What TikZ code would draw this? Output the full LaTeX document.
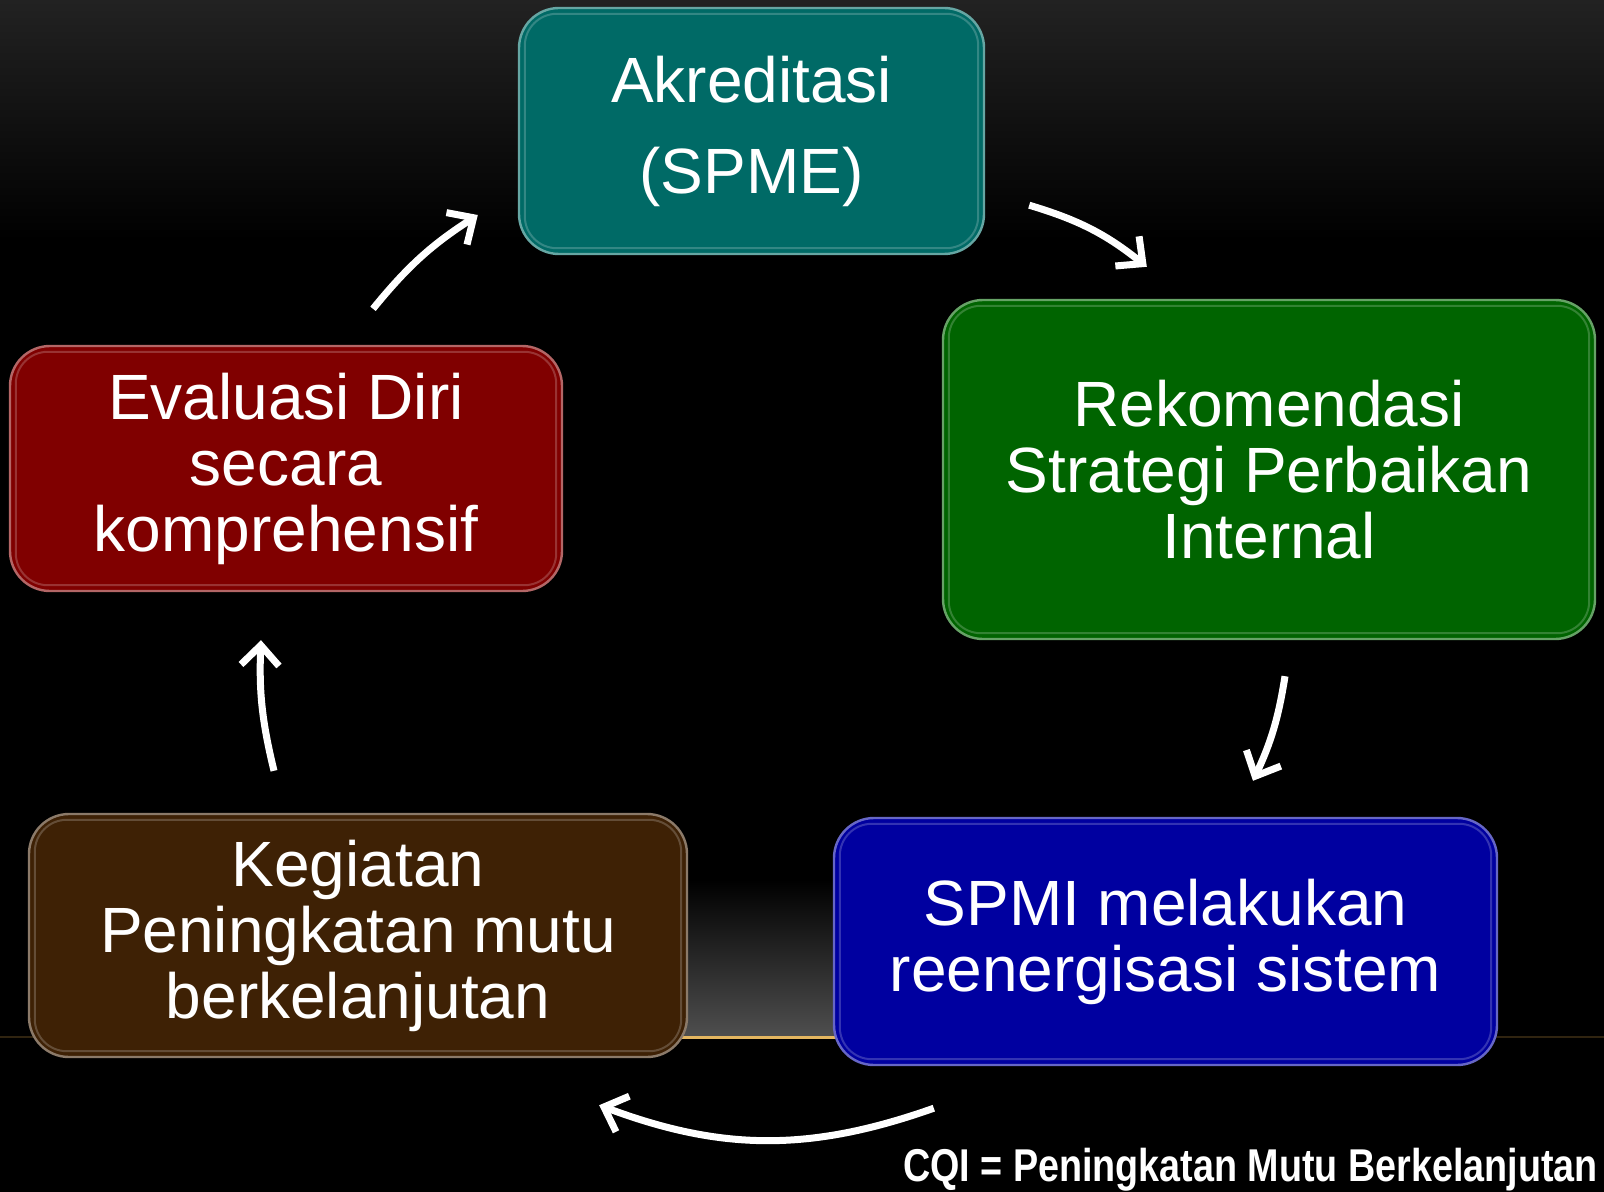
\documentclass[tikz,border=0pt]{standalone}
\usepackage{fontspec}
\setmainfont{Liberation Sans}
\newfontfamily\cqifont[FakeStretch=0.82]{Liberation Sans Bold}
\usetikzlibrary{arrows.meta}

\definecolor{tealbox}{RGB}{0,106,102}
\definecolor{redbox}{RGB}{128,0,0}
\definecolor{greenbox}{RGB}{0,100,0}
\definecolor{bluebox}{RGB}{0,0,160}
\definecolor{brownbox}{RGB}{62,33,5}
\definecolor{topgray}{RGB}{34,34,34}
\definecolor{spotgray}{RGB}{78,78,78}
\definecolor{goldline}{RGB}{228,182,96}
\definecolor{goldfaint}{RGB}{48,36,16}

\begin{document}
\begin{tikzpicture}[x=0.5pt, y=-0.5pt,
            every node/.style={text=white, align=center, font=\fontsize{32}{33}\selectfont},
            cyclebox/.style={draw=#1!60!white, fill=#1, line width=1.2pt, rounded corners=20pt, inner sep=0pt}]
            \tikzset{cycle arrow/.style={draw=white, line width=3.5pt, -{Straight Barb[length=10pt,width=19pt]}}}
            \useasboundingbox (0,0) rectangle (1604,1192);
            % background
            \fill[black] (0,0) rectangle (1604,1192);
            \shade[top color=topgray, bottom color=black] (0,0) rectangle (1604,240);
            \shade[top color=black, bottom color=spotgray] (560,880) rectangle (960,1035);
            \draw[goldfaint, line width=1pt] (0,1037) -- (1604,1037);
            \draw[goldline, line width=1.5pt] (600,1037) -- (920,1037);
            % boxes
            \node[cyclebox=tealbox, minimum width=232.5pt, minimum height=123pt, font=\fontsize{32}{45.5}\selectfont] (akr) at (751.5,131) {Akreditasi\\(SPME)};
            \node[cyclebox=greenbox, minimum width=326pt, minimum height=169.5pt] (rek) at (1269,469.5) {Rekomendasi\\Strategi Perbaikan\\Internal};
            \node[cyclebox=bluebox, minimum width=331.5pt, minimum height=123.5pt] (spmi) at (1165.5,941.5) {SPMI melakukan\\reenergisasi sistem};
            \node[cyclebox=brownbox, minimum width=329pt, minimum height=121.5pt] (keg) at (358,935.5) {Kegiatan\\Peningkatan mutu\\berkelanjutan};
            \node[cyclebox=redbox, minimum width=276pt, minimum height=122.5pt] (eval) at (286,468.5) {Evaluasi Diri\\secara\\komprehensif};
            \foreach \n in {akr,rek,spmi,keg,eval}
              \draw[white, opacity=.2, line width=1pt, rounded corners=16pt] ([shift={(7,7)}]\n.north west) rectangle ([shift={(-7,-7)}]\n.south east);
            % arrows
            \draw[cycle arrow] ([shift={(44,-50)}]akr.south east) to[bend left=11] ([shift={(205,-32)}]rek.north west);
            \draw[cycle arrow] ([shift={(16,36)}]rek.south) to[bend left=8] ([shift={(87.5,-36)}]spmi.north);
            \draw[cycle arrow] ([shift={(101,42)}]spmi.south west) to[bend left=20] ([shift={(-89,47)}]keg.south east);
            \draw[cycle arrow] ([shift={(-84,-42)}]keg.north) to[bend left=8] ([shift={(-25,48)}]eval.south);
            \draw[cycle arrow] ([shift={(87,-36)}]eval.north) to[bend left=9] ([shift={(-40,84)}]akr.west);
            % note
            \node[anchor=base west, font=\cqifont\fontsize{23}{23}\selectfont] (cqi) at (896,1181) {CQI = Peningkatan Mutu Berkelanjutan};
        \end{tikzpicture}
\end{document}
